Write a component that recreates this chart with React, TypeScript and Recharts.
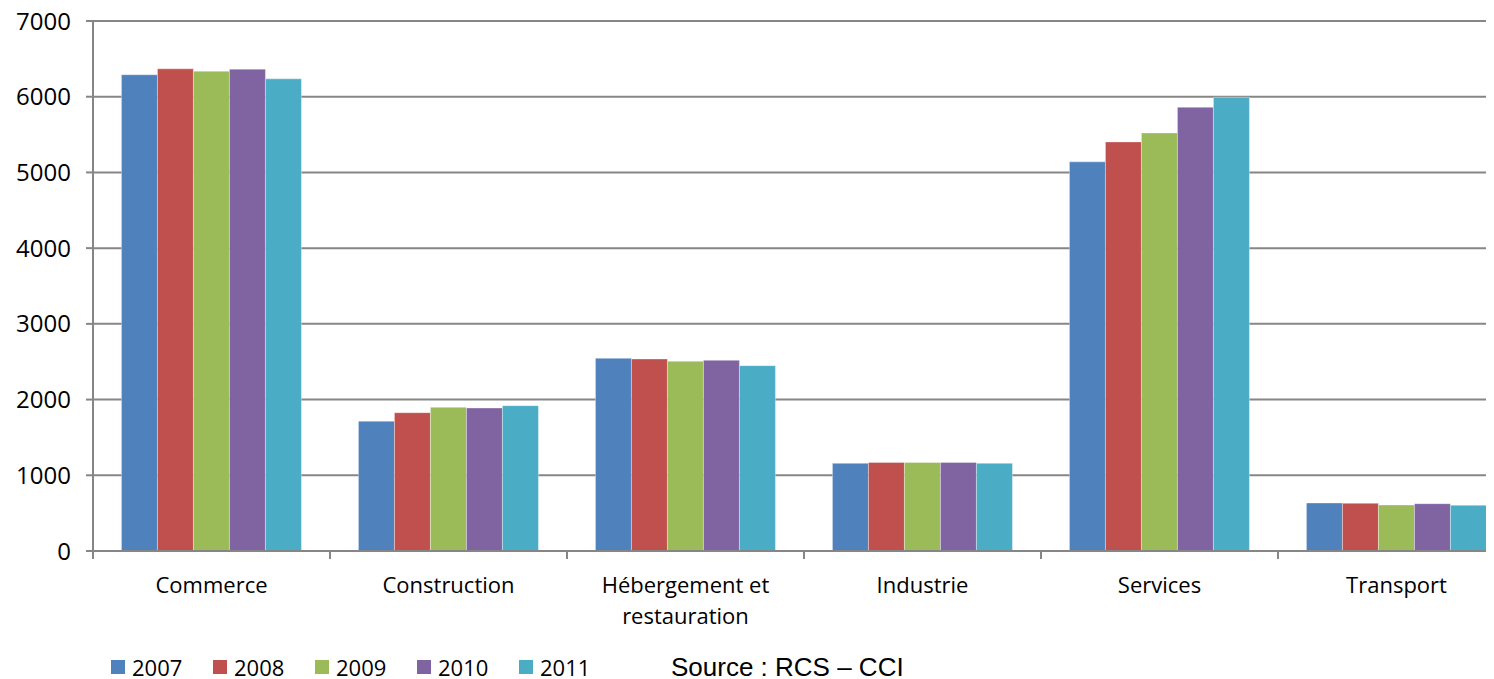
import { Bar, BarChart, CartesianGrid, Legend, XAxis, YAxis } from 'recharts'

const categories = ['Commerce', 'Construction', 'Hébergement et restauration', 'Industrie', 'Services', 'Transport']
const years = ['2007', '2008', '2009', '2010', '2011']
const colors = ['#4F81BD', '#C0504D', '#9BBB59', '#8064A2', '#4BACC6']

const v2007 = [6290, 1715, 2545, 1158, 5140, 634]
const v2008 = [6368, 1827, 2536, 1170, 5403, 630]
const v2009 = [6337, 1898, 2506, 1170, 5522, 608]
const v2010 = [6364, 1889, 2519, 1170, 5861, 625]
const v2011 = [6236, 1920, 2448, 1158, 5993, 604]

const yTicks = [0, 1000, 2000, 3000, 4000, 5000, 6000, 7000]
const source = 'Source : RCS – CCI'

const series = [v2007, v2008, v2009, v2010, v2011]

const data = categories.map((nom, i) => {
  const row: Record<string, string | number> = { nom }
  years.forEach((y, k) => {
    row[y] = series[k][i]
  })
  return row
})

const gris = '#868686'
const labelFont = '"Open Sans", sans-serif'

function CategoryTick(props: any) {
  const { x, y, payload } = props
  const half = payload.offset ?? 118.5
  const text: string = payload.value
  let lines = [text]
  if (text.length > 20) {
    const cut = text.lastIndexOf(' ')
    lines = [text.slice(0, cut), text.slice(cut + 1)]
  }
  return (
    <g>
      <line x1={x - half} x2={x - half} y1={y} y2={y + 8} stroke={gris} strokeWidth={2} />
      {lines.map((l, i) => (
        <text
          key={i}
          x={x}
          y={y + 42 + i * 31}
          textAnchor="middle"
          fontFamily={labelFont}
          fontSize={22}
          fill="#000"
        >
          {l}
        </text>
      ))}
    </g>
  )
}

function Legende() {
  return (
    <div style={{ position: 'relative', height: 22, display: 'flex', alignItems: 'center', fontFamily: labelFont, fontSize: 22, lineHeight: '22px', color: '#000' }}>
      {years.map((y, i) => (
        <div key={y} style={{ display: 'flex', alignItems: 'center', width: 102 }}>
          <span style={{ width: 14, height: 14, background: colors[i], marginRight: 7, display: 'inline-block' }} />
          <span>{y}</span>
        </div>
      ))}
      <span
        style={{
          position: 'absolute',
          left: 560,
          top: -1,
          fontFamily: '"Liberation Sans", Arial, sans-serif',
          fontSize: 26,
          lineHeight: '24px',
          whiteSpace: 'nowrap',
        }}
      >
        {source}
      </span>
    </div>
  )
}

export default function App() {
  return (
    <div style={{ width: 1486, height: 671, overflow: 'hidden', position: 'relative' }}>
      <BarChart
        width={1507}
        height={671}
        data={data}
        margin={{ top: 13, right: 0, left: 0, bottom: 48 }}
        barCategoryGap="12%"
        barGap={0}
      >
        <CartesianGrid vertical={false} stroke={gris} strokeWidth={2} />
        <XAxis
          dataKey="nom"
          height={80}
          interval={0}
          tickLine={false}
          tickSize={0}
          tickMargin={0}
          axisLine={{ stroke: gris, strokeWidth: 2 }}
          tick={<CategoryTick />}
        />
        <YAxis
          width={85}
          domain={[0, 7000]}
          ticks={yTicks}
          interval={0}
          tickSize={7}
          tickMargin={15}
          tickLine={{ stroke: gris, strokeWidth: 2 }}
          axisLine={{ stroke: gris, strokeWidth: 2 }}
          tick={{ fill: '#000', fontSize: 24, fontFamily: labelFont }}
        />
        <Legend
          layout="horizontal"
          verticalAlign="middle"
          align="center"
          content={<Legende />}
          wrapperStyle={{ top: 648, left: 103, width: 900 }}
        />
        {years.map((y, i) => (
          <Bar
            key={y}
            dataKey={y}
            fill={colors[i]}
            stroke="rgba(255,255,255,0.35)"
            strokeWidth={1}
            isAnimationActive={false}
          />
        ))}
      </BarChart>
    </div>
  )
}
